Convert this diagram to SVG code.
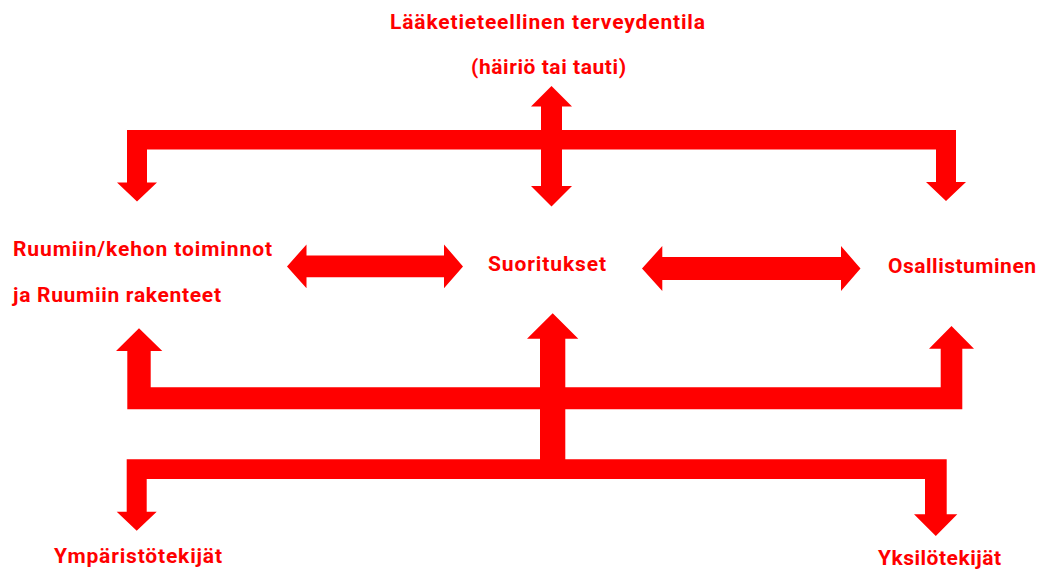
<svg xmlns="http://www.w3.org/2000/svg" width="1044" height="570" viewBox="0 0 1044 570">
<style>
.t{font-family:Roboto,"Liberation Sans",Arial,sans-serif;font-weight:bold;font-size:21px;fill:#FF0000}
.a{fill:#FF0000;stroke:none}
</style>
<rect width="1044" height="570" fill="#FFFFFF"/>
<g id="connectors">
<path class="a" d="M127,130 H956 V182 H966 L946,201 L926,182 H936 V149.5 H147 V182.5 H157 L137,201.5 L117,182.5 H127 Z"/>
<path class="a" d="M551.5,86 L572,106.5 H562 V186 H572 L551.5,206.5 L531,186 H541 V106.5 H531 Z"/>
<path class="a" d="M287,266.4 L306.5,244.5 V255.5 H444 V244.5 L463,266.4 L444,288.3 V277.3 H306.5 V288.3 Z"/>
<path class="a" d="M642,268.5 L662.3,246 V257 H841 V246 L860.5,268.5 L841,291 V280 H662.3 V291 Z"/>
<path class="a" d="M127.3,409.3 V351 H116 L139,328.3 L162.3,351 H150.7 V387.3 H940.7 V348.7 H929 L951.5,326 L974,348.7 H962.3 V409.3 Z"/>
<path class="a" d="M552.7,313.3 L578.3,338.7 H565.3 V470 H540 V338.7 H527 Z"/>
<path class="a" d="M126.7,459.3 H946.7 V514.3 H957.3 L935.8,536 L914,514.3 H925 V479 H146.7 V511.7 H156.7 L136.7,530.7 L116.7,511.7 H126.7 Z"/>
</g>
<g id="node-terveydentila">
<text class="t" x="390" y="29" textLength="315">Lääketieteellinen terveydentila</text>
<text class="t" x="471" y="74" textLength="155">(häiriö tai tauti)</text>
</g>
<g id="node-ruumiin">
<text class="t" x="13" y="256" textLength="259">Ruumiin/kehon toiminnot</text>
<text class="t" x="13" y="301.5" textLength="208">ja Ruumiin rakenteet</text>
</g>
<g id="node-suoritukset">
<text class="t" x="488" y="271" textLength="118">Suoritukset</text>
</g>
<g id="node-osallistuminen">
<text class="t" x="888" y="272.5" textLength="148">Osallistuminen</text>
</g>
<g id="node-ymparisto">
<text class="t" x="54" y="563" textLength="168">Ympäristötekijät</text>
</g>
<g id="node-yksilo">
<text class="t" x="878" y="565" textLength="123">Yksilötekijät</text>
</g>
</svg>
